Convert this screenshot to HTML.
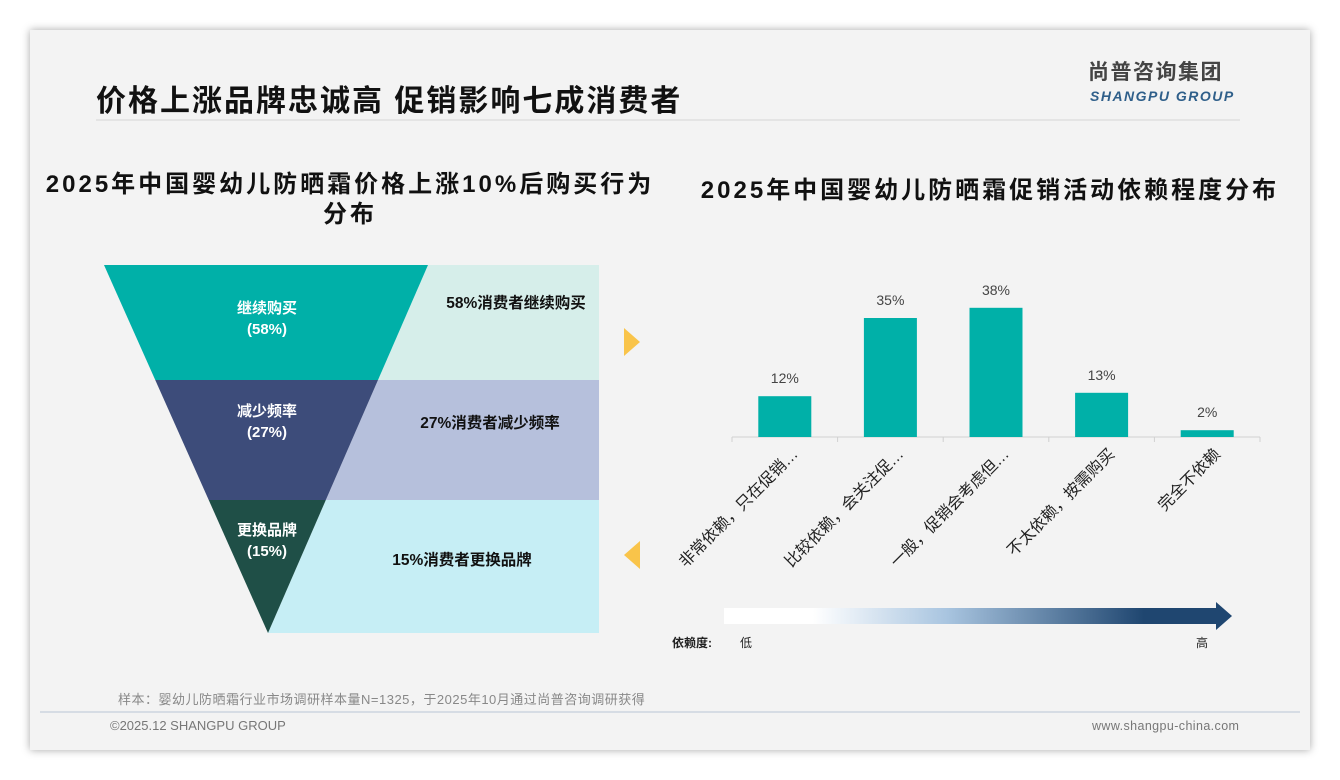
<!DOCTYPE html>
<html><head><meta charset="utf-8">
<style>
body{margin:0;width:1340px;height:780px;background:#fff;font-family:"Liberation Sans","Noto Sans CJK SC",sans-serif;overflow:hidden}
#card{position:absolute;left:30px;top:30px;width:1280px;height:720px;background:#f3f3f3;box-shadow:0 0 8px rgba(0,0,0,.35)}
.abs{position:absolute;white-space:nowrap}
</style></head><body>
<div id="card"></div>
<svg width="1340" height="780" style="position:absolute;left:0;top:0">
<defs>
<linearGradient id="g" x1="0" x2="1"><stop offset="0" stop-color="#fff"/><stop offset="0.18" stop-color="#fff"/><stop offset="0.45" stop-color="#a9c5e0"/><stop offset="0.85" stop-color="#1f4670"/><stop offset="1" stop-color="#1f4670"/></linearGradient>
</defs>
<line x1="96" y1="120" x2="1240" y2="120" stroke="#e0e0e0" stroke-width="1.5"/>
<line x1="40" y1="712" x2="1300" y2="712" stroke="#b8c6d4" stroke-width="1"/>
<g id="funnel"></g>
<polygon points="624,328 640,342 624,356" fill="#f9c44a"/>
<polygon points="640,541 624,555 640,569" fill="#f9c44a"/>
<g id="bars"></g>
<g>
<rect x="724" y="608" width="494" height="16" fill="url(#g)"/>
<polygon points="1216,602 1232,616 1216,630" fill="#1f4670"/>
</g>
</svg>
<div class="abs" style="left:96px;top:76px;font-size:30px;font-weight:bold;color:#111;letter-spacing:2px">价格上涨品牌忠诚高 促销影响七成消费者</div>
<div class="abs" style="left:1088px;top:60px;font-size:21px;font-weight:bold;color:#444;letter-spacing:1.5px;line-height:26px">尚普咨询集团</div>
<div class="abs" style="left:1090px;top:88px;font-size:14px;font-weight:bold;font-style:italic;color:#2f5f8a;letter-spacing:1.5px;line-height:16px">SHANGPU GROUP</div>
<div class="abs" style="left:30px;top:170px;width:640px;text-align:center;white-space:normal;font-size:24px;font-weight:bold;line-height:30px;color:#111;letter-spacing:3px">2025年中国婴幼儿防晒霜价格上涨10%后购买行为<br>分布</div>
<div class="abs" style="left:680px;top:170px;width:620px;text-align:center;font-size:24px;font-weight:bold;color:#111;letter-spacing:3px">2025年中国婴幼儿防晒霜促销活动依赖程度分布</div>
<div class="abs" style="left:672px;top:634px;font-size:12px;font-weight:bold;color:#222">依赖度:</div>
<div class="abs" style="left:740px;top:634px;font-size:12px;color:#222">低</div>
<div class="abs" style="left:1196px;top:634px;font-size:12px;color:#222">高</div>
<div class="abs" style="left:118px;top:689px;font-size:13px;color:#888;letter-spacing:0.5px">样本：婴幼儿防晒霜行业市场调研样本量N=1325，于2025年10月通过尚普咨询调研获得</div>
<div class="abs" style="left:110px;top:718px;font-size:13px;color:#777">©2025.12 SHANGPU GROUP</div>
<div class="abs" style="left:1092px;top:719px;font-size:12.5px;color:#777;letter-spacing:0.4px">www.shangpu-china.com</div>
<script>
const NS="http://www.w3.org/2000/svg";
const funnelLabels=["继续购买","减少频率","更换品牌"];
const funnelValues=[58,27,15];
const funnelNotes=["58%消费者继续购买","27%消费者减少频率","15%消费者更换品牌"];
const barCategories=["非常依赖，只在促销…","比较依赖，会关注促…","一般，促销会考虑但…","不太依赖，按需购买","完全不依赖"];
const barValues=[12,35,38,13,2];

function mk(tag,attrs,parent){const e=document.createElementNS(NS,tag);for(const k in attrs)e.setAttribute(k,attrs[k]);parent.appendChild(e);return e;}
const fg=document.getElementById('funnel');
const bounds=[265,380,500,633];
const fCol=["#00b0a8","#3d4c7a","#1f4f47"], pCol=["#d6eeea","#b6c0dc","#c6eef5"];
const L=y=>104+(268-104)*(y-265)/(633-265), R=y=>428-(428-268)*(y-265)/(633-265);
funnelLabels.forEach((lab,i)=>{
  const y0=bounds[i],y1=bounds[i+1];
  let p=mk('polygon',{points:`${R(y0)},${y0} 599,${y0} 599,${y1} ${R(y1)},${y1}`,fill:pCol[i]},fg);
  
  
  let f=mk('polygon',{points:`${L(y0)},${y0} ${R(y0)},${y0} ${R(y1)},${y1} ${L(y1)},${y1}`,fill:fCol[i]},fg);
  
  
  const ty=[313,416,535][i];
  let t=mk('text',{x:267,y:ty,'text-anchor':'middle','font-size':15,'font-weight':'bold',fill:'#fff'},fg);t.textContent=lab;
  
  
  let t2=mk('text',{x:267,y:ty+21,'text-anchor':'middle','font-size':15,'font-weight':'bold',fill:'#fff'},fg);t2.textContent='('+funnelValues[i]+'%)';
  
  
  const nx=[516,490,462][i], ny=[308,428,565][i];
  let n=mk('text',{x:nx,y:ny,'text-anchor':'middle','font-size':15.5,'font-weight':'bold',fill:'#111'},fg);n.textContent=funnelNotes[i];
  
  
});
const bg=document.getElementById('bars');
const x0=732,x1=1260,base=437,pxPer=3.4;
const band=(x1-x0)/barCategories.length;
const xc=i=>x0+band*(i+0.5), yv=v=>base-v*pxPer;
let ax=mk('line',{x1:x0,y1:base,x2:x1,y2:base,stroke:'#d0d0d0'},bg);


barCategories.forEach((c,i)=>{
  let tk=mk('line',{x1:x0+band*i,y1:base,x2:x0+band*i,y2:base+5,stroke:'#d0d0d0'},bg);
  
  
  let r=mk('rect',{x:xc(i)-26.5,y:yv(barValues[i]),width:53,height:base-yv(barValues[i]),fill:'#00b0a8'},bg);
  
  
  let v=mk('text',{x:xc(i),y:yv(barValues[i])-13,'text-anchor':'middle','font-size':14,fill:'#444'},bg);v.textContent=barValues[i]+'%';
  
  
  let t=mk('text',{x:xc(i)+14,y:base+18,'text-anchor':'end','font-size':16,fill:'#222',transform:`rotate(-45 ${xc(i)+14} ${base+18})`},bg);t.textContent=c;
  
  
});
let tk=mk('line',{x1:x1,y1:base,x2:x1,y2:base+5,stroke:'#d0d0d0'},bg);


</script>
</body></html>
